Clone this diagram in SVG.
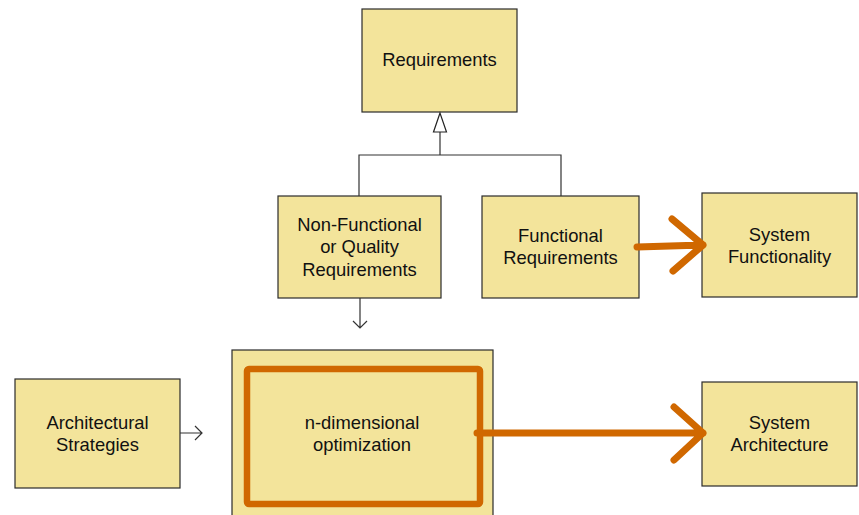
<svg xmlns="http://www.w3.org/2000/svg" width="859" height="515" viewBox="0 0 859 515">
  <defs>
    <style>
      .box { fill: #f3e49b; stroke: #2b2b2b; stroke-width: 1.2; }
      .label { font-family: "Liberation Sans", Arial, sans-serif; font-size: 18.4px; fill: #111; text-anchor: middle; }
      .line { fill: none; stroke: #333; stroke-width: 1.2; }
      .bold { fill: none; stroke: #d06800; stroke-width: 7; stroke-linecap: round; stroke-linejoin: round; }
    </style>
  </defs>
  <rect width="859" height="515" fill="#ffffff"/>

  <g id="requirements">
    <rect class="box" x="362" y="9" width="155" height="103"/>
    <text class="label" x="439.5" y="66">Requirements</text>
  </g>

  <g id="non-functional">
    <rect class="box" x="278" y="196" width="163" height="102"/>
    <text class="label" x="359.5" y="231">Non-Functional</text>
    <text class="label" x="359.5" y="253">or Quality</text>
    <text class="label" x="359.5" y="276">Requirements</text>
  </g>

  <g id="functional">
    <rect class="box" x="482" y="196" width="157" height="102"/>
    <text class="label" x="560.5" y="242">Functional</text>
    <text class="label" x="560.5" y="264">Requirements</text>
  </g>

  <g id="system-functionality">
    <rect class="box" x="702" y="193" width="155" height="104"/>
    <text class="label" x="779.5" y="241">System</text>
    <text class="label" x="779.5" y="263">Functionality</text>
  </g>

  <g id="architectural-strategies">
    <rect class="box" x="15" y="379" width="165" height="109"/>
    <text class="label" x="97.5" y="429">Architectural</text>
    <text class="label" x="97.5" y="451">Strategies</text>
  </g>

  <g id="optimization">
    <rect class="box" x="232" y="350" width="261" height="175"/>
    <rect x="247" y="369" width="233" height="135" rx="2" fill="none" stroke="#d06800" stroke-width="6.5"/>
    <text class="label" x="362" y="429">n-dimensional</text>
    <text class="label" x="362" y="451">optimization</text>
  </g>

  <g id="system-architecture">
    <rect class="box" x="702" y="382" width="155" height="104"/>
    <text class="label" x="779.5" y="429">System</text>
    <text class="label" x="779.5" y="451">Architecture</text>
  </g>

  <g id="connectors">
    <!-- generalization tree -->
    <path class="line" d="M359 196 V155 H561 V196 M440 155 V132"/>
    <polygon points="440,113 433.5,132 446.5,132" fill="#ffffff" stroke="#222" stroke-width="1.2"/>
    <!-- quality requirements feed the optimization -->
    <path class="line" d="M360 298 V328 M353 321 L360 328 L367 321"/>
    <!-- strategies feed the optimization -->
    <path class="line" d="M180 433 H202 M195 426 L202 433 L195 440"/>
    <!-- emphasised outcome arrows -->
    <path class="bold" d="M637 247 L703 245 M672 219 L703 245 L673 271"/>
    <path class="bold" d="M477 433 H703 M674 407 L703 433 L674 460"/>
  </g>
</svg>
